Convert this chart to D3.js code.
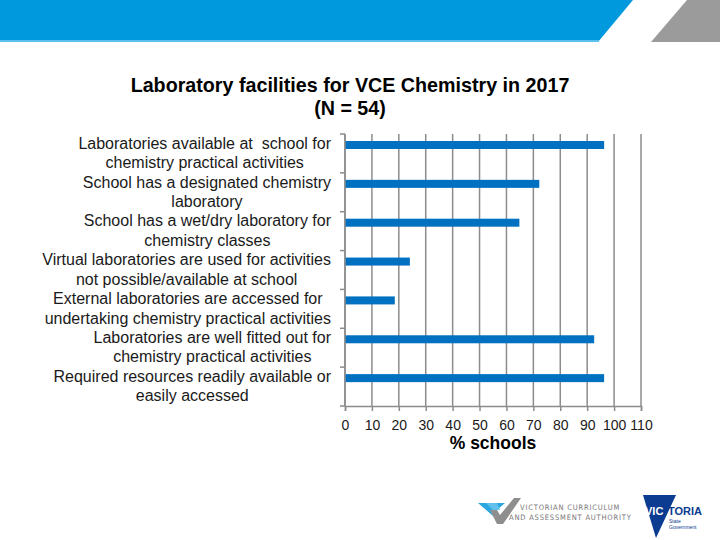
<!DOCTYPE html>
<html>
<head>
<meta charset="utf-8">
<script src="https://cdn.jsdelivr.net/npm/d3@7"></script>
<style>
  body { margin: 0; background: #fff; }
  svg { display: block; font-family: "Liberation Sans", Arial, sans-serif; }
</style>
</head>
<body>
<svg id="chart" width="720" height="540"></svg>
<script>
// Chart data (% of 54 schools).
var categories = [
	["Laboratories available at  school for", "chemistry practical activities"],
	["School has a designated chemistry", "laboratory"],
	["School has a wet/dry laboratory for", "chemistry classes"],
	["Virtual laboratories are used for activities", "not possible/available at school"],
	["External laboratories are accessed for", "undertaking chemistry practical activities"],
	["Laboratories are well fitted out for", "chemistry practical activities"],
	["Required resources readily available or", "easily accessed"]
];
var percentSchools = [96.3, 72.2, 64.8, 24.1, 18.5, 92.6, 96.3];
var xTicks = [0, 10, 20, 30, 40, 50, 60, 70, 80, 90, 100, 110];
var titleLines = ["Laboratory facilities for VCE Chemistry in 2017", "(N = 54)"];
var axisTitle = "% schools";

var svg = d3.select("#chart");

// Header band: blue slab and grey slab, both slanted.
svg.append("polygon").attr("points", "0,0 633,0 598,42 0,42").attr("fill", "#0099dd");
svg.append("rect").attr("x", 0).attr("y", 40).attr("width", 599).attr("height", 2).attr("fill", "#5cc0ee");
svg.append("polygon").attr("points", "687,0 720,0 720,42 651,42").attr("fill", "#9b9b9b");

// Title
svg.append("text").attr("x", 350).attr("y", 92).attr("text-anchor", "middle")
	.attr("font-size", 19.7).attr("font-weight", "bold").attr("fill", "#000")
	.text(titleLines[0]);
svg.append("text").attr("x", 350).attr("y", 115).attr("text-anchor", "middle")
	.attr("font-size", 19.7).attr("font-weight", "bold").attr("fill", "#000")
	.text(titleLines[1]);

var keys = d3.range(categories.length);
var x = d3.scaleLinear().domain([0, 110]).range([345, 641]);
var y = d3.scaleBand().domain(keys).range([134, 406]).padding(0);
var bw = y.bandwidth();

// Vertical gridlines
svg.append("g").selectAll("line").data(xTicks).enter().append("line")
	.attr("x1", function (d) { return x(d); })
	.attr("x2", function (d) { return x(d); })
	.attr("y1", 134).attr("y2", 406)
	.attr("stroke", "#8c8c8c").attr("stroke-width", 1.5);

// Bars (the chart is clustered, so each bar sits in the upper half of its band)
svg.append("g").selectAll("rect").data(percentSchools).enter().append("rect")
	.attr("x", x(0))
	.attr("y", function (d, i) { return y(i) + bw * 0.18; })
	.attr("width", function (d) { return x(d) - x(0); })
	.attr("height", 8)
	.attr("fill", "#0070c0");

// Bottom axis
var xAxis = d3.axisBottom(x).tickValues(xTicks).tickSize(5).tickPadding(9);
var gx = svg.append("g").attr("transform", "translate(0,406)").call(xAxis);
gx.select(".domain").attr("stroke", "#8c8c8c").attr("stroke-width", 1.5);
gx.selectAll(".tick line").attr("stroke", "#8c8c8c").attr("stroke-width", 1.5);
gx.selectAll(".tick text").attr("font-size", 14).attr("fill", "#1a1a1a")
	.attr("font-family", "Liberation Sans, Arial, sans-serif");

svg.append("text").attr("x", 493).attr("y", 449).attr("text-anchor", "middle")
	.attr("font-size", 17.5).attr("font-weight", "bold").attr("fill", "#000")
	.text(axisTitle);

// Left axis: line plus tick marks at band boundaries
svg.append("line").attr("x1", 345).attr("x2", 345).attr("y1", 134).attr("y2", 406)
	.attr("stroke", "#8c8c8c").attr("stroke-width", 1.5);
var bounds = keys.map(function (k) { return y(k); }).concat([y.range()[1]]);
svg.append("g").selectAll("line").data(bounds).enter().append("line")
	.attr("x1", 340).attr("x2", 345)
	.attr("y1", function (d) { return d; }).attr("y2", function (d) { return d; })
	.attr("stroke", "#8c8c8c").attr("stroke-width", 1.5);

// Category labels: each block is right-aligned at x=331, its lines centred in the block.
var labelGroups = svg.append("g").selectAll("g").data(categories).enter().append("g");
labelGroups.each(function (lines, i) {
	var g = d3.select(this);
	var cy = y(i) + bw / 2;
	var texts = lines.map(function (line, j) {
		return g.append("text")
			.attr("y", cy + (j - (lines.length - 1) / 2) * 19.5 + 5)
			.attr("text-anchor", "middle")
			.attr("font-size", 16).attr("fill", "#1a1a1a")
			.attr("xml:space", "preserve")
			.text(line);
	});
	var widest = d3.max(texts, function (t) { return t.node().getComputedTextLength(); });
	texts.forEach(function (t) { t.attr("x", 331 - widest / 2); });
});

// Footer logos (simplified)
var vcaa = svg.append("g");
vcaa.append("polygon").attr("points", "478,503 505,503 497,510 490,510 500,522").attr("fill", "#2aa7df");
vcaa.append("polygon").attr("points", "490,510 497,510 500,515 514,498 521,498 503,524 497,524").attr("fill", "#8e8e8e");
vcaa.append("polygon").attr("points", "486,503 497,503 500,510 493,510").attr("fill", "#62c1ea");
vcaa.append("text").attr("x", 520).attr("y", 510).attr("font-size", 7.5).attr("fill", "#777")
	.attr("letter-spacing", 0.8).attr("font-family", "DejaVu Sans Condensed, sans-serif").text("VICTORIAN CURRICULUM");
vcaa.append("text").attr("x", 509).attr("y", 520).attr("font-size", 7.5).attr("fill", "#777")
	.attr("letter-spacing", 0.8).attr("font-family", "DejaVu Sans Condensed, sans-serif").text("AND ASSESSMENT AUTHORITY");

var vic = svg.append("g");
vic.append("polygon").attr("points", "643,495 676,495 656,538").attr("fill", "#0b3c91");
vic.append("text").attr("x", 645).attr("y", 515).attr("font-size", 11).attr("font-weight", "bold")
	.attr("fill", "#fff").text("VIC");
vic.append("text").attr("x", 668).attr("y", 515).attr("font-size", 11).attr("font-weight", "bold")
	.attr("fill", "#0b3c91").text("TORIA");
vic.append("text").attr("x", 669).attr("y", 523).attr("font-size", 5).attr("fill", "#0b3c91").text("State");
vic.append("text").attr("x", 669).attr("y", 529).attr("font-size", 5).attr("fill", "#0b3c91").text("Government");
</script>
</body>
</html>
